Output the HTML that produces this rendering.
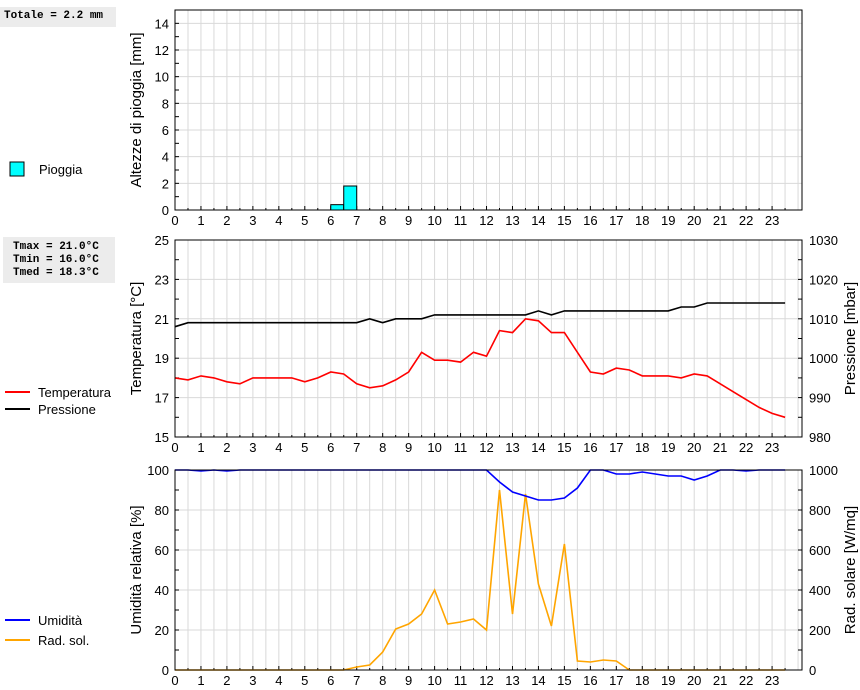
<!DOCTYPE html>
<html><head><meta charset="utf-8"><style>
body{margin:0;background:#fff;width:860px;height:690px;overflow:hidden;font-family:"Liberation Sans",sans-serif}
svg{position:absolute;left:0;top:0}
.box{position:absolute;background:#ececec;font-family:"Liberation Mono",monospace;font-weight:bold;font-size:11px;line-height:13px;color:#000}
</style></head><body>
<div class="box" style="left:0;top:7;left:0px;top:7px;width:116px;height:20px;padding:3px 0 0 4px;box-sizing:border-box">Totale = 2.2 mm</div>
<div class="box" style="left:3px;top:237px;width:112px;height:46px;padding:4px 0 0 10px;box-sizing:border-box">Tmax = 21.0°C<br>Tmin = 16.0°C<br>Tmed = 18.3°C</div>
<svg id="c" width="860" height="690" xmlns="http://www.w3.org/2000/svg" font-family="Liberation Sans, sans-serif" font-size="13"></svg>
<script>
const hours=[0,0.5,1,1.5,2,2.5,3,3.5,4,4.5,5,5.5,6,6.5,7,7.5,8,8.5,9,9.5,10,10.5,11,11.5,12,12.5,13,13.5,14,14.5,15,15.5,16,16.5,17,17.5,18,18.5,19,19.5,20,20.5,21,21.5,22,22.5,23,23.5];
const rainStart=[6,6.5];
const rainValues=[0.4,1.8];
const temperature=[18.0,17.9,18.1,18.0,17.8,17.7,18.0,18.0,18.0,18.0,17.8,18.0,18.3,18.2,17.7,17.5,17.6,17.9,18.3,19.3,18.9,18.9,18.8,19.3,19.1,20.4,20.3,21.0,20.9,20.3,20.3,19.3,18.3,18.2,18.5,18.4,18.1,18.1,18.1,18.0,18.2,18.1,17.7,17.3,16.9,16.5,16.2,16.0];
const pressure=[1008,1009,1009,1009,1009,1009,1009,1009,1009,1009,1009,1009,1009,1009,1009,1010,1009,1010,1010,1010,1011,1011,1011,1011,1011,1011,1011,1011,1012,1011,1012,1012,1012,1012,1012,1012,1012,1012,1012,1013,1013,1014,1014,1014,1014,1014,1014,1014];
const humidity=[100,100,99.5,100,99.5,100,100,100,100,100,100,100,100,100,100,100,100,100,100,100,100,100,100,100,100,94,89,87,85,85,86,91,100,100,98,98,99,98,97,97,95,97,100,100,99.5,100,100,100];
const radiation=[0,0,0,0,0,0,0,0,0,0,0,0,0,0,15,25,90,205,230,280,400,230,240,255,200,900,280,880,430,220,630,45,40,50,45,0,0,0,0,0,0,0,0,0,0,0,0,0];
const xTicks=[0,1,2,3,4,5,6,7,8,9,10,11,12,13,14,15,16,17,18,19,20,21,22,23];
const rainTicks=[0,2,4,6,8,10,12,14];
const tempTicks=[15,17,19,21,23,25];
const presTicks=[980,990,1000,1010,1020,1030];
const humTicks=[0,20,40,60,80,100];
const radTicks=[0,200,400,600,800,1000];

const svg=document.getElementById('c');const NS='http://www.w3.org/2000/svg';
function el(t,a,p){const e=document.createElementNS(NS,t);for(const k in a)e.setAttribute(k,a[k]);(p||svg).appendChild(e);return e;}
const X0=175,X1=802,HW=25.96;
const x=h=>X0+h*HW;
const P=[{t:10,b:210,min:0,max:15},{t:240,b:437,min:15,max:25},{t:470,b:670,min:0,max:100}];
const yS=(p,min,max)=>v=>p.b-(v-min)/(max-min)*(p.b-p.t);

function panel(i,name,lt,lmin,lmax,lminor,rt,rmin,rmax,rminor,ltitle,rtitle){
 const p=P[i];const g=el('g',{});
 
 for(let h=0;h<=24;h+=0.5){const xx=x(h);if(xx>=X1)break;el('line',{x1:xx,x2:xx,y1:p.t,y2:p.b,stroke:'#d9d9d9'},g);}
 const ly=yS(p,lmin,lmax);
 lt.forEach(v=>{el('line',{x1:X0,x2:X1,y1:ly(v),y2:ly(v),stroke:'#d9d9d9'},g);const t=el('text',{x:X0-6,y:ly(v)+5,'text-anchor':'end'},g);t.textContent=v;});
 for(let v=lmin;v<=lmax;v+=lminor){el('line',{x1:X0,x2:X0+4,y1:ly(v),y2:ly(v),stroke:'#000'},g);}
 xTicks.forEach(h=>{el('line',{x1:x(h),x2:x(h),y1:p.b,y2:p.b-4,stroke:'#000'},g);const t=el('text',{x:x(h),y:p.b+15,'text-anchor':'middle'},g);t.textContent=h;});
 for(let h=0.5;h<24;h+=1)el('line',{x1:x(h),x2:x(h),y1:p.b,y2:p.b-2,stroke:'#000'},g);
 if(rt){const ry=yS(p,rmin,rmax);rt.forEach(v=>{const t=el('text',{x:X1+7,y:ry(v)+5},g);t.textContent=v;});
  for(let v=rmin;v<=rmax;v+=rminor)el('line',{x1:X1,x2:X1-4,y1:ry(v),y2:ry(v),stroke:'#000'},g);}
 const t=el('text',{transform:`translate(141,${(p.t+p.b)/2}) rotate(-90)`,'text-anchor':'middle','font-size':'15'},g);t.textContent=ltitle;
 
 if(rtitle){const r=el('text',{transform:`translate(855,${(p.t+p.b)/2}) rotate(-90)`,'text-anchor':'middle','font-size':'15'},g);r.textContent=rtitle;
 }
 return g;
}
function frame(i){const p=P[i];const r=el('rect',{x:X0,y:p.t,width:X1-X0,height:p.b-p.t,fill:'none',stroke:'#000'});
 }
function line(vals,ys,color,name){const d=vals.map((v,k)=>(k?'L':'M')+x(hours[k]).toFixed(1)+','+ys(v).toFixed(1)).join('');
 const pth=el('path',{d:d,fill:'none',stroke:color,'stroke-width':1.6});
 }

panel(0,'rain-panel',rainTicks,0,15,1,null,0,0,0,'Altezze di pioggia [mm]');
const ry=yS(P[0],0,15);
rainValues.forEach((v,k)=>{const r=el('rect',{x:x(rainStart[k]),y:ry(v),width:HW/2,height:ry(0)-ry(v),fill:'#00ffff',stroke:'#000'});
 });
frame(0);

panel(1,'temperature-pressure-panel',tempTicks,15,25,1,presTicks,980,1030,5,'Temperatura [°C]','Pressione [mbar]');
line(pressure,yS(P[1],980,1030),'#000','pressure-line');
line(temperature,yS(P[1],15,25),'#ff0000','temperature-line');
frame(1);

panel(2,'humidity-radiation-panel',humTicks,0,100,10,radTicks,0,1000,100,'Umidità relativa [%]','Rad. solare [W/mq]');
line(radiation,yS(P[2],0,1000),'#ffa500','radiation-line');
line(humidity,yS(P[2],0,100),'#0000ff','humidity-line');
frame(2);

function legend(y,color,label,name,rect){
 const g=el('g',{});
 if(rect)el('rect',{x:10,y:y-7,width:14,height:14,fill:color,stroke:'#000'},g);
 else el('line',{x1:5,x2:30,y1:y,y2:y,stroke:color,'stroke-width':2},g);
 const t=el('text',{x:rect?39:38,y:y+5},g);t.textContent=label;}
legend(169,'#00ffff','Pioggia','legend-rain',true);
legend(392,'#ff0000','Temperatura','legend-temperature');
legend(409,'#000','Pressione','legend-pressure');
legend(620,'#0000ff','Umidità','legend-humidity');
legend(640,'#ffa500','Rad. sol.','legend-radiation');
</script>
</body></html>
